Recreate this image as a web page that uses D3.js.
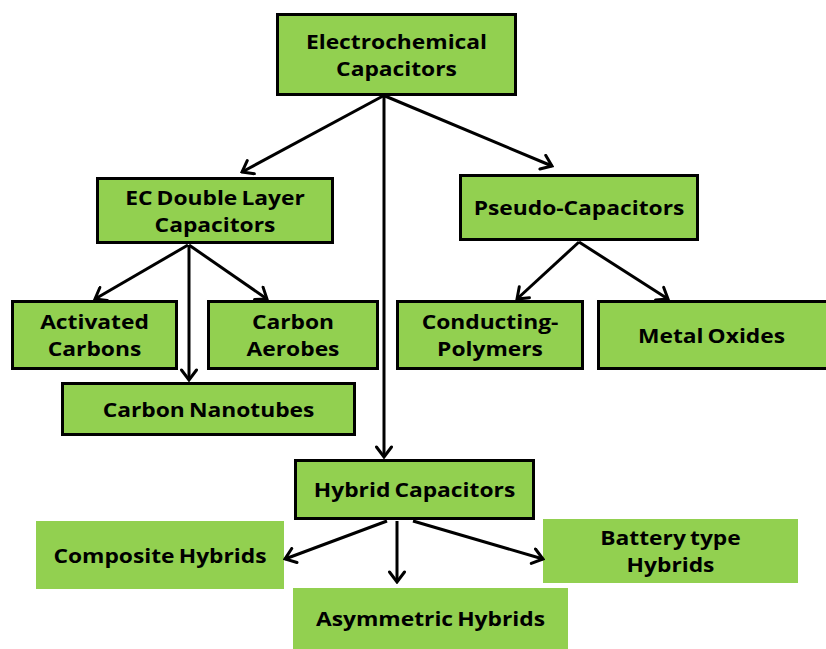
<!DOCTYPE html>
<html>
<head>
<meta charset="utf-8">
<script src="https://cdn.jsdelivr.net/npm/d3@7"></script>
<style>
  html, body { margin: 0; padding: 0; background: #ffffff; }
  svg { display: block; }
</style>
</head>
<body>
<svg id="tree" width="826" height="649"></svg>
<script>
// node labels (one entry per text line)
const nodeIds = ["ec", "edl", "pseudo", "act", "aero", "cnt", "cond", "metal", "hybrid", "comp", "asym", "batt"];
const nodeLabels = [
  ["Electrochemical", "Capacitors"],
  ["EC Double Layer", "Capacitors"],
  ["Pseudo-Capacitors"],
  ["Activated", "Carbons"],
  ["Carbon", "Aerobes"],
  ["Carbon Nanotubes"],
  ["Conducting-", "Polymers"],
  ["Metal Oxides"],
  ["Hybrid Capacitors"],
  ["Composite Hybrids"],
  ["Asymmetric Hybrids"],
  ["Battery type", "Hybrids"]
];
const linkSources = ["ec", "ec", "ec", "edl", "edl", "edl", "pseudo", "pseudo", "hybrid", "hybrid", "hybrid"];
const linkTargets = ["edl", "pseudo", "hybrid", "act", "aero", "cnt", "cond", "metal", "comp", "asym", "batt"];

// layout: box extents [x0, y0, x1, y1] and whether the box has an outline
const boxLayout = {
  ec:     { box: [276, 13, 517, 96],  outline: true },
  edl:    { box: [96, 177, 334, 244], outline: true },
  pseudo: { box: [459, 174, 699, 241], outline: true },
  act:    { box: [11, 300, 178, 370], outline: true },
  aero:   { box: [207, 300, 379, 370], outline: true },
  cnt:    { box: [61, 382, 356, 436], outline: true },
  cond:   { box: [396, 300, 584, 370], outline: true },
  metal:  { box: [597, 300, 830, 370], outline: true },
  hybrid: { box: [294, 459, 535, 520], outline: true },
  comp:   { box: [36, 521, 284, 589], outline: false },
  asym:   { box: [293, 588, 568, 660], outline: false },
  batt:   { box: [543, 519, 798, 583], outline: false }
};
// arrow anchor points [from, to], same order as the links
const arrowLayout = [
  [[383, 96], [242, 172]],
  [[385, 96], [552, 166]],
  [[384, 96], [384, 457]],
  [[188, 245], [95, 299]],
  [[189, 245], [267, 299]],
  [[189, 245], [189, 380]],
  [[579, 242], [517, 299]],
  [[579, 242], [668, 299]],
  [[387, 521], [285, 559]],
  [[397, 521], [397, 582]],
  [[413, 521], [543, 559]]
];

const svg = d3.select("#tree");
const fill = "#92d050";
const ink = "#000000";
const fontSize = 19;
const stretch = 1.2; // the source text is drawn wide
const lineGap = 27;

const defs = svg.append("defs");
defs
  .append("marker")
  .attr("id", "arrowhead")
  .attr("markerUnits", "userSpaceOnUse")
  .attr("viewBox", "-12 -9 14 18")
  .attr("refX", 0)
  .attr("refY", 0)
  .attr("markerWidth", 14)
  .attr("markerHeight", 18)
  .attr("orient", "auto")
  .append("path")
  .attr("d", "M-10,-7.5L0,0L-10,7.5")
  .attr("fill", "none")
  .attr("stroke", ink)
  .attr("stroke-width", 3)
  .attr("stroke-linecap", "round")
  .attr("stroke-linejoin", "miter");

const nodes = nodeIds.map((id, i) => ({ id, lines: nodeLabels[i], ...boxLayout[id] }));
const links = linkSources.map((s, i) => ({ source: s, target: linkTargets[i], pts: arrowLayout[i] }));

const boxLayer = svg.append("g").attr("class", "boxes");
const linkLayer = svg.append("g").attr("class", "links");
const textLayer = svg.append("g").attr("class", "labels");

boxLayer
  .selectAll("rect")
  .data(nodes)
  .join("rect")
  .attr("x", d => d.box[0] + (d.outline ? 1.5 : 0))
  .attr("y", d => d.box[1] + (d.outline ? 1.5 : 0))
  .attr("width", d => d.box[2] - d.box[0] - (d.outline ? 3 : 0))
  .attr("height", d => d.box[3] - d.box[1] - (d.outline ? 3 : 0))
  .attr("fill", fill)
  .attr("stroke", d => (d.outline ? ink : "none"))
  .attr("stroke-width", 3);

const line = d3.line();

linkLayer
  .selectAll("path")
  .data(links)
  .join("path")
  .attr("d", d => line(d.pts))
  .attr("fill", "none")
  .attr("stroke", ink)
  .attr("stroke-width", 3)
  .attr("marker-end", "url(#arrowhead)");

const centre = d => [
  (d.box[0] + Math.min(d.box[2], 826)) / 2,
  (d.box[1] + Math.min(d.box[3], 649)) / 2
];

const labels = textLayer
  .selectAll("text")
  .data(nodes)
  .join("text")
  .attr("transform", d => `translate(${centre(d)[0]}, 0) scale(${stretch}, 1)`)
  .attr("text-anchor", "middle")
  .attr("font-family", "'Open Sans', 'DejaVu Sans', sans-serif")
  .attr("font-weight", 700)
  .attr("font-size", fontSize)
  .attr("word-spacing", -1.5)
  .attr("fill", ink);

labels
  .selectAll("tspan")
  .data(d => {
    const cy = centre(d)[1];
    const n = d.lines.length;
    return d.lines.map((t, i) => ({ t, y: cy + (i - (n - 1) / 2) * lineGap }));
  })
  .join("tspan")
  .attr("x", 0)
  .attr("y", d => d.y)
  .attr("dy", "0.4em")
  .text(d => d.t);
</script>
</body>
</html>
